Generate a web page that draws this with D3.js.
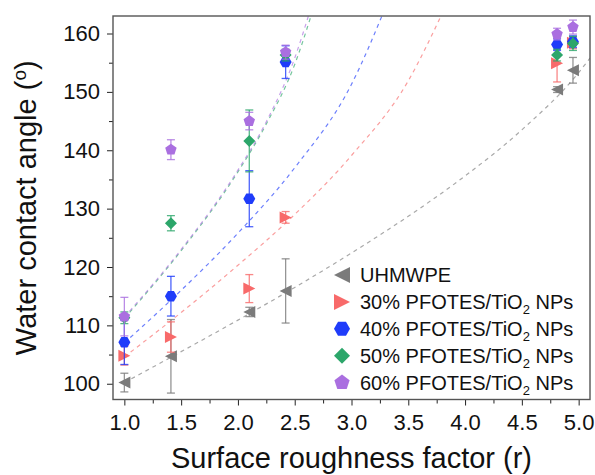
<!DOCTYPE html>
<html>
<head>
<meta charset="utf-8">
<script src="https://cdn.jsdelivr.net/npm/d3@7"></script>
<style>
  body { margin: 0; background: #fff; }
  svg { display: block; font-family: "Liberation Sans", Arial, sans-serif; }
</style>
</head>
<body>
<div id="chart"></div>
<script>
// roughness factor of each sample
const roughness = [1.0, 1.41, 2.1, 2.42, 4.81, 4.95];

// measured contact angles and error (deg)
const uhmwpe    = [100.2, 104.7, 112.3, 115.9, 150.4, 153.7];
const uhmwpeErr = [1.6, 6.3, 0.8, 5.5, 0.5, 2.2];
const pf30      = [104.8, 108.0, 116.3, 128.5, 154.9, 158.4];
const pf30Err   = [1.6, 2.6, 2.4, 1.0, 3.2, 1.0];
const pf40      = [107.1, 115.0, 131.7, 155.1, 158.1, 158.6];
const pf40Err   = [3.8, 3.4, 4.8, 2.8, 1.0, 1.0];
const pf50      = [111.3, 127.5, 141.6, 156.3, 156.3, 158.3];
const pf50Err   = [1.0, 1.3, 5.3, 1.0, 1.0, 1.2];
const pf60      = [111.5, 140.1, 145.0, 156.8, 159.9, 161.1];
const pf60Err   = [3.3, 1.7, 1.5, 1.2, 1.0, 1.2];

// dashed fit curves
const fitGrayX   = [1, 1.5, 2, 2.5, 3, 3.5, 4, 4.5, 5, 5.1];
const fitGrayY   = [100.2, 105.5, 110.9, 116.5, 122.4, 128.7, 135.6, 143.5, 153.3, 155.8];
const fitPinkX   = [1, 1.5, 2, 2.5, 3, 3.5, 3.8];
const fitPinkY   = [104.6, 112.2, 120.3, 129.0, 139.1, 151.9, 163.5];
const fitBlueX   = [1, 1.5, 2, 2.5, 3, 3.3];
const fitBlueY   = [107.0, 116.0, 125.8, 137.0, 151.3, 164.5];
const fitGreenX  = [1, 1.5, 2, 2.25, 2.5, 2.65];
const fitGreenY  = [111.2, 122.8, 136.3, 144.5, 154.7, 163.4];
const fitPurpleX = [1, 1.5, 2, 2.25, 2.5, 2.63];
const fitPurpleY = [111.4, 123.0, 136.6, 144.9, 155.8, 163.6];

const xTicks = [1.0, 1.5, 2.0, 2.5, 3.0, 3.5, 4.0, 4.5, 5.0];
const yTicks = [100, 110, 120, 130, 140, 150, 160];

const series = [
  {name: "UHMWPE", sub: null, y: uhmwpe, err: uhmwpeErr, fx: fitGrayX, fy: fitGrayY, color: "#7b7b7b", shape: "triL"},
  {name: "30% PFOTES/TiO", sub: "2", y: pf30, err: pf30Err, fx: fitPinkX, fy: fitPinkY, color: "#f86a6a", shape: "triR"},
  {name: "40% PFOTES/TiO", sub: "2", y: pf40, err: pf40Err, fx: fitBlueX, fy: fitBlueY, color: "#1f3cfa", shape: "hex"},
  {name: "50% PFOTES/TiO", sub: "2", y: pf50, err: pf50Err, fx: fitGreenX, fy: fitGreenY, color: "#2ca66a", shape: "diamond"},
  {name: "60% PFOTES/TiO", sub: "2", y: pf60, err: pf60Err, fx: fitPurpleX, fy: fitPurpleY, color: "#aa6fe0", shape: "pent"}
];

const W = 595, H = 475;
const plotL = 113, plotR = 590, plotT = 16, plotB = 399.5;

const svg = d3.select("#chart").append("svg")
  .attr("width", W).attr("height", H);

const x = d3.scaleLinear().domain([0.9, 5.1]).range([plotL, plotR]);
const y = d3.scaleLinear().domain([97.3, 163]).range([plotB, plotT]);

svg.append("clipPath").attr("id", "clip")
  .append("rect").attr("x", plotL).attr("y", plotT)
  .attr("width", plotR - plotL).attr("height", plotB - plotT);

function shapePath(type, s) {
  const r = s / 2;
  if (type === "triL") return `M${-r},0L${r},${-r}L${r},${r}Z`;
  if (type === "triR") return `M${r},0L${-r},${-r}L${-r},${r}Z`;
  if (type === "diamond") return `M0,${-r}L${r},0L0,${r}L${-r},0Z`;
  let n = type === "hex" ? 6 : 5;
  let start = type === "hex" ? 0 : -Math.PI / 2;
  let pts = d3.range(n).map(i => {
    const a = start + i * 2 * Math.PI / n;
    return [r * Math.cos(a), r * Math.sin(a)];
  });
  return "M" + pts.map(p => p.join(",")).join("L") + "Z";
}

// fit curves
const line = d3.line().curve(d3.curveMonotoneX);
const fits = svg.append("g").attr("clip-path", "url(#clip)");
series.forEach(s => {
  fits.append("path")
    .attr("d", line(s.fx.map((v, i) => [x(v), y(s.fy[i])])))
    .attr("fill", "none")
    .attr("stroke", s.color)
    .attr("stroke-opacity", 0.65)
    .attr("stroke-width", 1.2)
    .attr("stroke-dasharray", "4,4");
});

// error bars + markers
const marks = svg.append("g");
series.forEach(s => {
  const g = marks.append("g");
  roughness.forEach((r, i) => {
    const cx = x(r), lo = y(s.y[i] - s.err[i]), hi = y(s.y[i] + s.err[i]);
    g.append("line").attr("x1", cx).attr("x2", cx).attr("y1", lo).attr("y2", hi);
    g.append("line").attr("x1", cx - 4).attr("x2", cx + 4).attr("y1", lo).attr("y2", lo);
    g.append("line").attr("x1", cx - 4).attr("x2", cx + 4).attr("y1", hi).attr("y2", hi);
  });
  g.selectAll("line").attr("stroke", s.color).attr("stroke-opacity", 0.8).attr("stroke-width", 1.3);
  g.selectAll("path.pt")
    .data(s.y)
    .enter().append("path")
    .attr("class", "pt")
    .attr("d", shapePath(s.shape, 12))
    .attr("transform", (d, i) => `translate(${x(roughness[i])},${y(d)})`)
    .attr("fill", s.color);
});

// axes
const frame = "#555";
const xAxis = svg.append("g")
  .attr("transform", `translate(0,${plotB})`)
  .call(d3.axisBottom(x).tickValues(xTicks).tickSize(6).tickFormat(d3.format(".1f")));
svg.append("g")
  .attr("transform", `translate(0,${plotB})`)
  .call(d3.axisBottom(x).tickValues(d3.range(1.25, 5, 0.5)).tickSize(4).tickFormat(""));
const yAxis = svg.append("g")
  .attr("transform", `translate(${plotL},0)`)
  .call(d3.axisLeft(y).tickValues(yTicks).tickSize(6));
svg.append("g")
  .attr("transform", `translate(${plotL},0)`)
  .call(d3.axisLeft(y).tickValues(d3.range(105, 161, 10)).tickSize(4).tickFormat(""));

svg.selectAll(".domain").remove();
svg.selectAll(".tick line").attr("stroke", "#222").attr("stroke-width", 1);
xAxis.selectAll("text").attr("font-size", 22).attr("fill", "#111").attr("dy", 0).attr("y", 30);
yAxis.selectAll("text").attr("font-size", 22).attr("fill", "#111").attr("x", -13);

svg.append("rect")
  .attr("x", plotL).attr("y", plotT)
  .attr("width", plotR - plotL).attr("height", plotB - plotT)
  .attr("fill", "none").attr("stroke", frame).attr("stroke-width", 1.4);

// titles
svg.append("text")
  .attr("x", (plotL + plotR) / 2).attr("y", 468)
  .attr("text-anchor", "middle").attr("font-size", 29).attr("fill", "#111")
  .text("Surface roughness factor (r)");

const yt = svg.append("text")
  .attr("transform", `translate(36,${(plotT + plotB) / 2}) rotate(-90)`)
  .attr("text-anchor", "middle").attr("font-size", 29).attr("fill", "#111");
yt.append("tspan").text("Water contact angle (");
yt.append("tspan").attr("font-size", 19).attr("dy", -10).text("o");
yt.append("tspan").attr("dy", 10).text(")");

// legend
const legend = svg.append("g");
series.forEach((s, i) => {
  const ly = 275 + i * 26.9;
  legend.append("path")
    .attr("d", shapePath(s.shape, 16))
    .attr("transform", `translate(342,${ly})`)
    .attr("fill", s.color);
  const t = legend.append("text")
    .attr("x", 360).attr("y", ly + 7)
    .attr("font-size", 20).attr("fill", "#111");
  t.append("tspan").text(s.name);
  if (s.sub) {
    t.append("tspan").attr("font-size", 13).attr("dy", 5).text(s.sub);
    t.append("tspan").attr("dy", -5).text(" NPs");
  }
});
</script>
</body>
</html>
